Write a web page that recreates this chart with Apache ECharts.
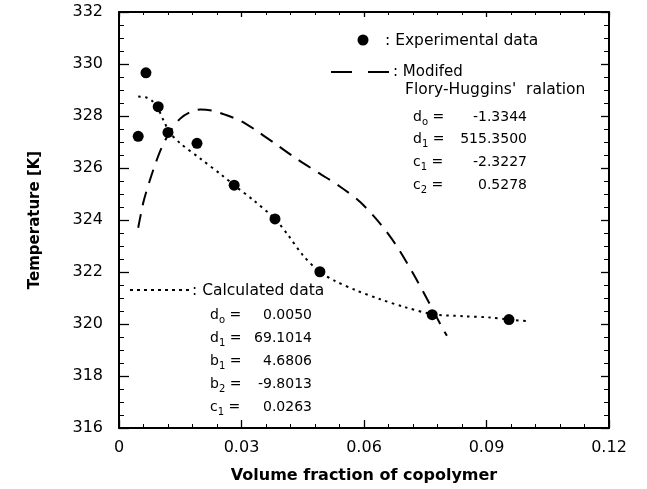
<!DOCTYPE html>
<html><head><meta charset="utf-8">
<script src="https://cdn.jsdelivr.net/npm/echarts@6/dist/echarts.min.js"></script>
<style>html,body{margin:0;padding:0;background:#fff}#c{width:647px;height:489px}</style>
</head><body><div id="c"></div>
<script>
// Experimental data points
const expX = [0.0047, 0.0066, 0.0096, 0.0120, 0.0191, 0.0282, 0.0382, 0.0492, 0.0767, 0.0955];
const expY = [327.22, 329.66, 328.36, 327.37, 326.95, 325.34, 324.04, 322.01, 320.36, 320.17];
// Calculated data curve (dotted)
const calcX = [0.0047, 0.0065, 0.0080, 0.0095, 0.0110, 0.0125, 0.0150, 0.0200, 0.0250, 0.0285, 0.0330, 0.0382, 0.0415, 0.0450, 0.0492, 0.0530, 0.0580, 0.0640, 0.0700, 0.0767, 0.0843, 0.0909, 0.0955, 0.1007];
const calcY = [328.75, 328.72, 328.60, 328.30, 327.80, 327.35, 326.95, 326.35, 325.75, 325.30, 324.75, 324.04, 323.40, 322.65, 322.00, 321.65, 321.30, 320.95, 320.65, 320.38, 320.30, 320.25, 320.17, 320.10];
// Modified Flory-Huggins curve (dashed)
const fhX = [0.0047, 0.0060, 0.0075, 0.0090, 0.0105, 0.0125, 0.0150, 0.0175, 0.0200, 0.0230, 0.0260, 0.0300, 0.0340, 0.0390, 0.0440, 0.0490, 0.0540, 0.0590, 0.0640, 0.0680, 0.0720, 0.0760, 0.0790, 0.0803];
const fhY = [323.70, 324.70, 325.50, 326.20, 326.80, 327.40, 327.90, 328.15, 328.25, 328.20, 328.05, 327.80, 327.40, 326.85, 326.30, 325.80, 325.30, 324.70, 323.85, 323.00, 321.95, 320.80, 319.90, 319.55];
// Axis ticks
const xTicks = [0, 0.03, 0.06, 0.09, 0.12];
const yTicks = [316, 318, 320, 322, 324, 326, 328, 330, 332];
// Annotation text
const expLabel = ': Experimental data';
const fhLabel1 = ': Modifed';
const fhLabel2 = "Flory-Huggins'  ralation";
const calcLabel = ': Calculated data';
const fhParams = [['d','o','-1.3344'],['d','1','515.3500'],['c','1','-2.3227'],['c','2','0.5278']];
const calcParams = [['d','o','0.0050'],['d','1','69.1014'],['b','1','4.6806'],['b','2','-9.8013'],['c','1','0.0263']];

const FONT = 'DejaVu Sans';
const chart = echarts.init(document.getElementById('c'), null, {renderer:'canvas'});
const zip = (a,b) => a.map((v,i)=>[v,b[i]]);

const lineCommon = {show:true, onZero:false, lineStyle:{color:'#000', width:2}};

const rich = {
  v:{fontFamily:FONT, fontSize:14, color:'#000', lineHeight:20, verticalAlign:'middle'},
  s:{fontFamily:FONT, fontSize:10, color:'#000', lineHeight:20, verticalAlign:'bottom'}
};
function paramGraphics(params, xl, xr, y0, dy){
  const g = [];
  params.forEach((p,i)=>{
    const y = y0 + i*dy;
    g.push({type:'text', x:xl, y:y, style:{text:'{v|'+p[0]+'}{s|'+p[1]+'}{v| =}', rich:rich, verticalAlign:'middle', align:'left'}});
    g.push({type:'text', x:xr, y:y, style:{text:p[2], fontFamily:FONT, fontSize:14, fill:'#000', align:'right', verticalAlign:'middle'}});
  });
  return g;
}

const graphics = [
  {type:'circle', shape:{cx:363, cy:40, r:5.5}, style:{fill:'#000'}},
  {type:'text', x:385, y:41, style:{text:expLabel, fontFamily:FONT, fontSize:15.5, fill:'#000', verticalAlign:'middle'}},
  {type:'line', shape:{x1:331, y1:72, x2:352, y2:72}, style:{stroke:'#000', lineWidth:2}},
  {type:'line', shape:{x1:368, y1:72, x2:389, y2:72}, style:{stroke:'#000', lineWidth:2}},
  {type:'text', x:393, y:72, style:{text:fhLabel1, fontFamily:FONT, fontSize:15, fill:'#000', verticalAlign:'middle'}},
  {type:'text', x:405, y:90, style:{text:fhLabel2, fontFamily:FONT, fontSize:15.5, fill:'#000', verticalAlign:'middle'}},
  {type:'line', shape:{x1:130, y1:290, x2:190, y2:290}, style:{stroke:'#000', lineWidth:2, lineDash:[3,4]}},
  {type:'text', x:192, y:291, style:{text:calcLabel, fontFamily:FONT, fontSize:15.5, fill:'#000', verticalAlign:'middle'}}
].concat(paramGraphics(fhParams, 413, 527, 117, 22.7))
 .concat(paramGraphics(calcParams, 210, 312, 315, 23));

const option = {
  backgroundColor:'#fff',
  animation:false,
  textStyle:{fontFamily:FONT},
  grid:{left:119, right:38, top:12, bottom:59, containLabel:false},
  xAxis:[
    {type:'value', min:xTicks[0], max:xTicks[xTicks.length-1], interval:xTicks[1]-xTicks[0], position:'bottom',
      axisLine:lineCommon, axisTick:{show:true, inside:true, length:8, lineStyle:{color:'#000', width:1.3}},
      minorTick:{show:true, splitNumber:5, length:4, lineStyle:{color:'#000', width:1}},
      splitLine:{show:false},
      axisLabel:{color:'#000', fontSize:16, fontFamily:FONT, margin:12,
        formatter:v=> v===0 ? '0' : v.toFixed(2)},
      name:'Volume fraction of copolymer', nameLocation:'middle', nameGap:40,
      nameTextStyle:{fontFamily:FONT, fontWeight:'bold', fontSize:16, color:'#000'}},
    {type:'value', min:xTicks[0], max:xTicks[xTicks.length-1], interval:xTicks[1]-xTicks[0], position:'top',
      axisLine:lineCommon, axisTick:{show:true, inside:true, length:5, lineStyle:{color:'#000', width:1.3}},
      minorTick:{show:true, splitNumber:5, length:3, lineStyle:{color:'#000', width:1}},
      axisLabel:{show:false}, splitLine:{show:false}}
  ],
  yAxis:[
    {type:'value', min:yTicks[0], max:yTicks[yTicks.length-1], interval:yTicks[1]-yTicks[0], position:'left',
      axisLine:lineCommon, axisTick:{show:true, inside:true, length:10, lineStyle:{color:'#000', width:1.3}},
      minorTick:{show:true, splitNumber:4, length:5, lineStyle:{color:'#000', width:1}},
      splitLine:{show:false},
      axisLabel:{color:'#000', fontSize:16, fontFamily:FONT, margin:16},
      name:'Temperature [K]', nameLocation:'middle', nameGap:76, nameRotate:90,
      nameTextStyle:{fontFamily:FONT, fontWeight:'bold', fontSize:15, color:'#000'}},
    {type:'value', min:yTicks[0], max:yTicks[yTicks.length-1], interval:yTicks[1]-yTicks[0], position:'right',
      axisLine:lineCommon, axisTick:{show:true, inside:true, length:8, lineStyle:{color:'#000', width:1.3}},
      minorTick:{show:true, splitNumber:4, length:5, lineStyle:{color:'#000', width:1}},
      axisLabel:{show:false}, splitLine:{show:false}}
  ],
  series:[
    {type:'line', name:'Calculated data', data:zip(calcX,calcY), smooth:0.3, showSymbol:false, symbol:'none',
      lineStyle:{color:'#000', width:2, type:[2.5,4.5]}, z:2},
    {type:'line', name:'Modifed Flory-Huggins', data:zip(fhX,fhY), smooth:0.3, showSymbol:false, symbol:'none',
      lineStyle:{color:'#000', width:2, type:[14,9]}, z:2},
    {type:'scatter', name:'Experimental data', data:zip(expX,expY), symbol:'circle', symbolSize:11,
      itemStyle:{color:'#000', opacity:1}, z:3}
  ],
  graphic: graphics
};
chart.setOption(option);
</script>
</body></html>
